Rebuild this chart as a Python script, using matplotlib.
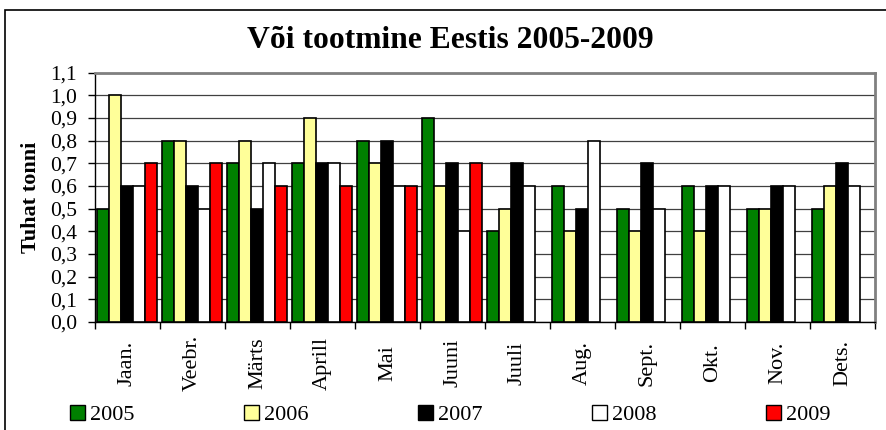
import numpy as np
import matplotlib
matplotlib.use('Agg')
import matplotlib.pyplot as plt
import matplotlib.patches as mpatches

# Andmed (tuhat tonni)
months = ['Jaan.', 'Veebr.', 'Märts', 'Aprill', 'Mai', 'Juuni',
          'Juuli', 'Aug.', 'Sept.', 'Okt.', 'Nov.', 'Dets.']
years = ['2005', '2006', '2007', '2008', '2009']
v2005 = [0.5, 0.8, 0.7, 0.7, 0.8, 0.9, 0.4, 0.6, 0.5, 0.6, 0.5, 0.5]
v2006 = [1.0, 0.8, 0.8, 0.9, 0.7, 0.6, 0.5, 0.4, 0.4, 0.4, 0.5, 0.6]
v2007 = [0.6, 0.6, 0.5, 0.7, 0.8, 0.7, 0.7, 0.5, 0.7, 0.6, 0.6, 0.7]
v2008 = [0.6, 0.5, 0.7, 0.7, 0.6, 0.4, 0.6, 0.8, 0.5, 0.6, 0.6, 0.6]
v2009 = [0.7, 0.7, 0.6, 0.6, 0.6, 0.7, np.nan, np.nan, np.nan, np.nan, np.nan, np.nan]
yticks = [i / 10 for i in range(12)]

series = [v2005, v2006, v2007, v2008, v2009]
colors = ['#008000', '#FFFF99', '#000000', '#FFFFFF', '#FF0000']

plt.rcParams['font.family'] = ['Liberation Serif', 'DejaVu Serif']

fig = plt.figure(figsize=(8.86, 4.30), dpi=100)
ax = fig.add_axes([95 / 886, 108 / 430, 780 / 886, 249.3 / 430])

x = np.arange(len(months))
bw = 0.185
for i, (vals, c) in enumerate(zip(series, colors)):
    ax.bar(x + (i - 2) * bw - 0.01, vals, width=bw, color=c, edgecolor='black',
           linewidth=1.2, zorder=3)

ax.set_xlim(-0.5, len(months) - 0.5)
ax.set_ylim(0, 1.1)
ax.set_yticks(yticks)
ax.set_yticklabels([f'{t:.1f}'.replace('.', ',') for t in yticks], fontsize=15.5)
ax.yaxis.grid(True, color='#404040', linewidth=0.9, zorder=1)

# kategooriate piirid tikkidena
ax.set_xticks(np.arange(len(months) + 1) - 0.5)
ax.set_xticklabels([])
ax.set_xticks(x, minor=True)
ax.set_xticklabels(months, minor=True, rotation=90, fontsize=16, va='center')
ax.tick_params(axis='x', which='minor', length=0, pad=29.5)
ax.tick_params(axis='x', which='major', length=5, width=1, color='black', direction='out')
ax.tick_params(axis='y', length=5, width=1, direction='out', pad=8)

for s in ['top', 'right']:
    ax.spines[s].set_color('#808080')
    ax.spines[s].set_linewidth(2)
for s in ['left', 'bottom']:
    ax.spines[s].set_color('black')
    ax.spines[s].set_linewidth(1)

ax.set_ylabel('Tuhat tonni', fontsize=16, fontweight='bold', labelpad=6)

fig.text(0.508, 1 - 48 / 430, 'Või tootmine Eestis 2005-2009', ha='center', va='baseline',
         fontsize=22.7, fontweight='bold')

# legend alumises servas
handles = [mpatches.Patch(facecolor=c, edgecolor='black', linewidth=1.0, label=y)
           for c, y in zip(colors, years)]
fig.legend(handles=handles, loc='center', bbox_to_anchor=(0.508, 0.035), ncol=5,
           frameon=False, fontsize=16, handlelength=0.68, handleheight=0.72,
           handletextpad=0.2, columnspacing=4.95)

# joonise raam
fig.patches.append(mpatches.Rectangle((4.5 / 886, -0.1), 1.2, (430 - 10.5) / 430 + 0.1,
                                      transform=fig.transFigure, fill=False,
                                      edgecolor='black', linewidth=1.2))

fig.savefig('out.png', dpi=100)
